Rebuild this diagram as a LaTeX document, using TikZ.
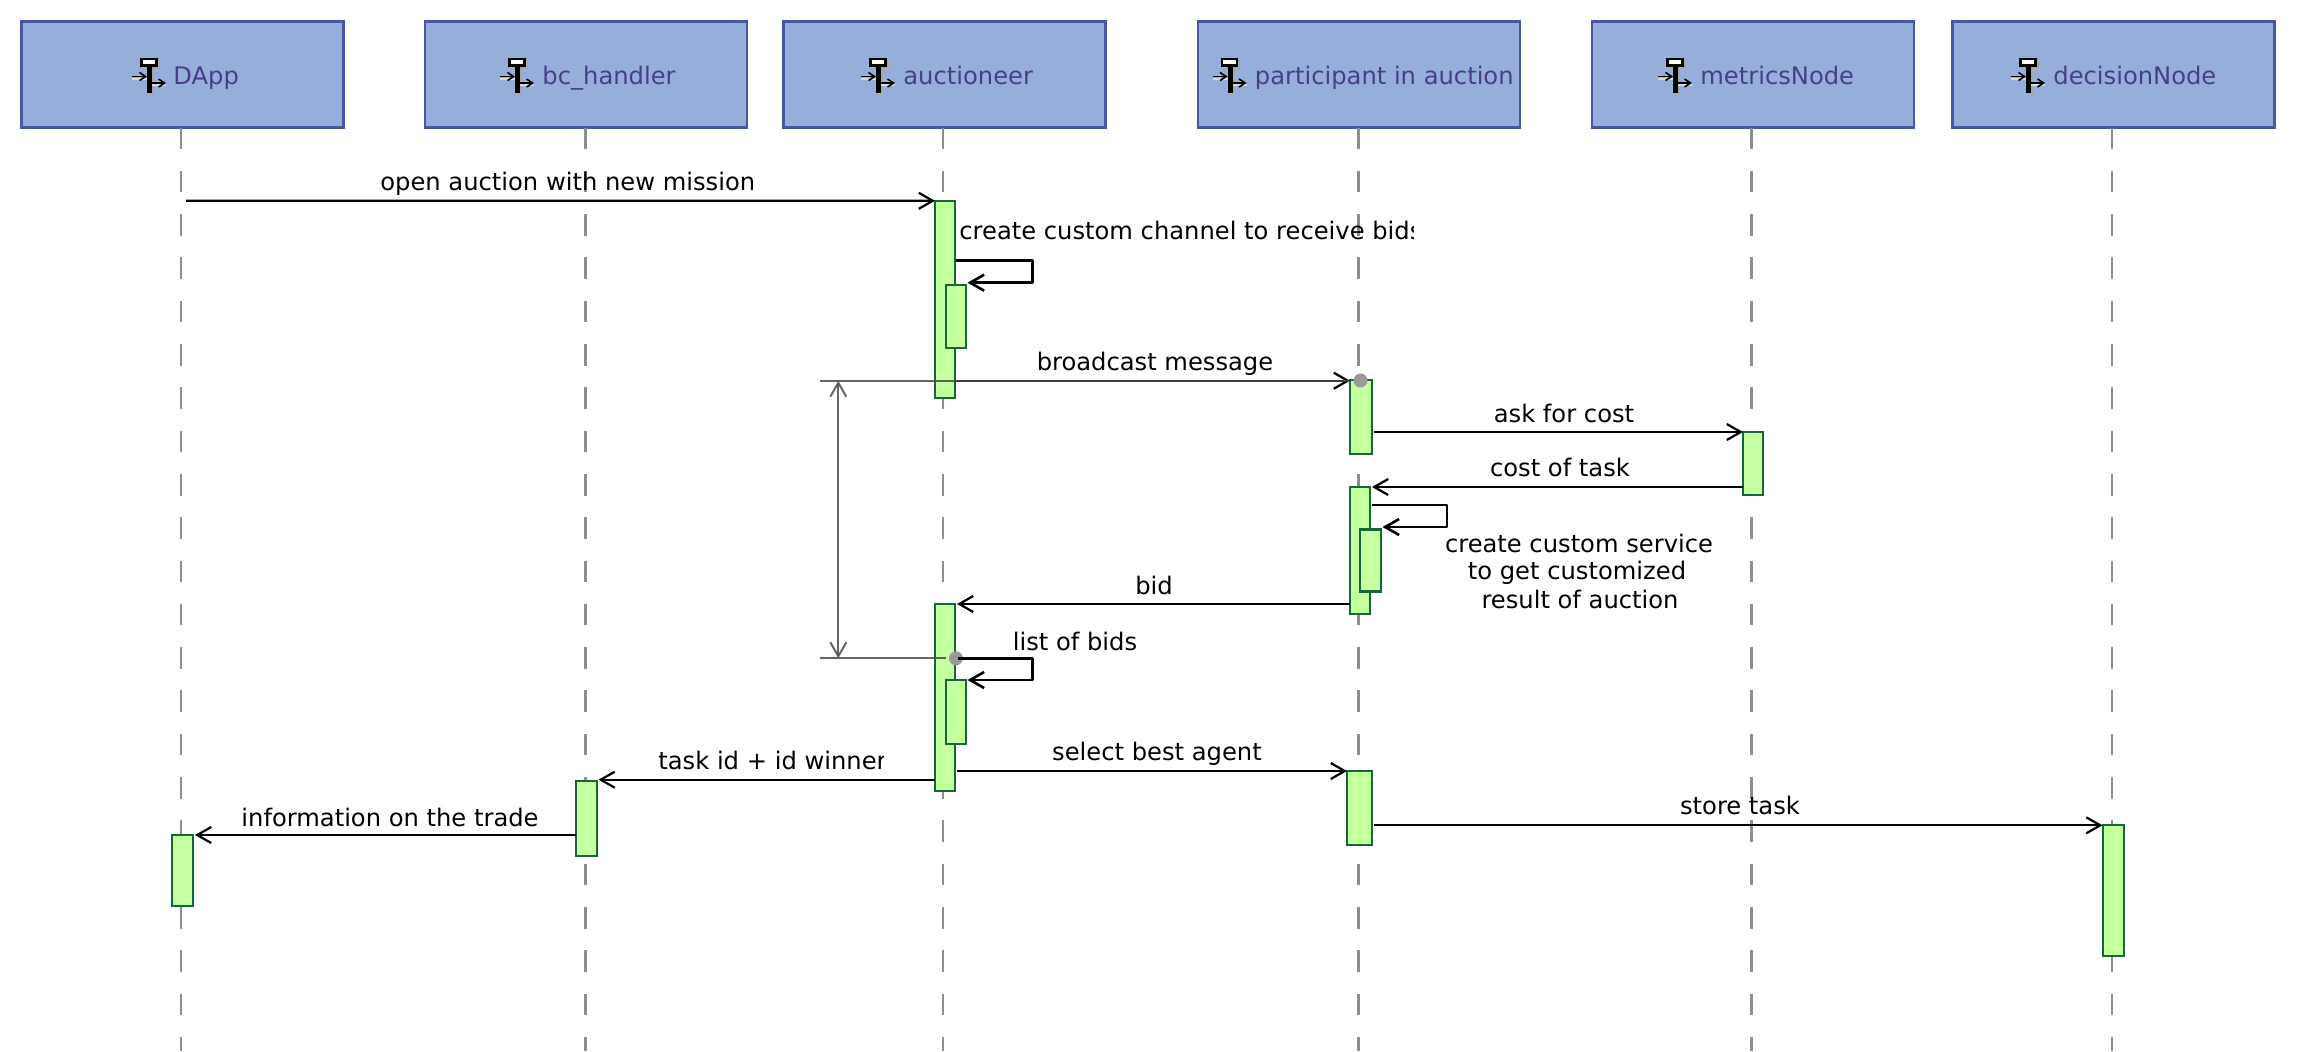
\documentclass[tikz,border=0pt]{standalone}
\usepackage{fontspec}
\setmainfont{DejaVu Sans}
\usetikzlibrary{arrows.meta}
\definecolor{boxfill}{HTML}{95AFDA}
\definecolor{boxline}{HTML}{4A55A8}
\definecolor{boxtext}{HTML}{483D8B}
\definecolor{actfill}{HTML}{C4FFA0}
\definecolor{actline}{HTML}{16663A}
\definecolor{lifegray}{HTML}{8E8E8E}
\definecolor{spangray}{HTML}{4A4A4A}
\definecolor{dotgray}{HTML}{9A9A9A}
\tikzset{
    lifebox/.style={draw=boxline, fill=boxfill, line width=1.25pt, minimum width=161pt, minimum height=53pt, inner sep=0pt, outer sep=0pt},
    lifename/.style={anchor=base west, text=boxtext, inner sep=0pt, yshift=-0.6pt, font=\fontsize{12.1}{14}\selectfont},
    lifeline/.style={draw=lifegray, line width=1.1pt, dash pattern=on 10.8pt off 10.85pt},
    act/.style 2 args={draw=actline, fill=actfill, line width=1.25pt, inner sep=0pt, outer sep=0pt, minimum width=#1*0.5pt, minimum height=#2*0.5pt},
    msg/.style={-{Straight Barb[length=7pt,width=8pt]}, line width=1.1pt, black},
    selfmsg/.style={-{Straight Barb[length=7pt,width=8pt]}, line width=1.3pt, black, line join=round},
    lbl/.style={anchor=base, inner sep=0pt, yshift=-0.7pt, font=\fontsize{12.1}{14}\selectfont},
    lblleft/.style={anchor=base west, inner sep=0pt, yshift=-0.7pt, font=\fontsize{12.1}{14}\selectfont},
    span/.style={draw=spangray, line width=1pt, opacity=0.85},
    spanarrow/.style={{Straight Barb[length=7pt,width=8pt]}-{Straight Barb[length=7pt,width=8pt]}, draw=spangray, line width=1pt, opacity=0.85},
    spandot/.style={circle, fill=dotgray, inner sep=0pt, minimum size=7pt},
    syncicon/.pic={
        \fill[gray!70] (10,-16) rectangle (27.5,-7.5);
        \fill[black] (8,-18) rectangle (25.5,-9.5);
        \fill[white] (10.5,-16) rectangle (23,-12);
        \fill[gray!70] (20,-8) rectangle (22,19);
        \fill[black] (15,-10) rectangle (20,17);
        \draw[white!85!black, line width=1pt] (0,2.5) -- (15,2.5);
        \draw[black, line width=0.8pt, -{Straight Barb[length=3pt,width=4pt]}] (0,0.5) -- (15,0.5);
        \draw[white!85!black, line width=1pt] (20,9) -- (34,9);
        \draw[black, line width=0.8pt, -{Straight Barb[length=3pt,width=4pt]}] (20,7) -- (34,7);
    }
}

\begin{document}
\begin{tikzpicture}[x=0.5pt,y=-0.5pt]

     \useasboundingbox (0,0) rectangle (2298,1051);

     \coordinate (endDApp) at (181,1051);
     \coordinate (endHandler) at (585.5,1051);
     \coordinate (endAuctioneer) at (943.3,1051);
     \coordinate (endParticipant) at (1358.5,1051);
     \coordinate (endMetrics) at (1751.4,1051);
     \coordinate (endDecision) at (2112,1051);

     \node[lifebox] (boxDApp) at (182.5,74.5) {};
     \node[lifebox] (boxHandler) at (586,74.5) {};
     \node[lifebox] (boxAuctioneer) at (944.5,74.5) {};
     \node[lifebox] (boxParticipant) at (1359,74.5) {};
     \node[lifebox] (boxMetrics) at (1753,74.5) {};
     \node[lifebox] (boxDecision) at (2113.5,74.5) {};

     \draw[lifeline] (boxDApp.south -| endDApp) -- (endDApp);
     \draw[lifeline] (boxHandler.south -| endHandler) -- (endHandler);
     \draw[lifeline] (boxAuctioneer.south -| endAuctioneer) -- (endAuctioneer);
     \draw[lifeline] (boxParticipant.south -| endParticipant) -- (endParticipant);
     \draw[lifeline] (boxMetrics.south -| endMetrics) -- (endMetrics);
     \draw[lifeline] (boxDecision.south -| endDecision) -- (endDecision);

     \pic at (132,76) {syncicon};
     \pic at (500,76) {syncicon};
     \pic at (861,76) {syncicon};
     \pic at (1212.5,76) {syncicon};
     \pic at (1658,76) {syncicon};
     \pic at (2011,76) {syncicon};

     \node[lifename] (nameDApp) at (173,83.3) {DApp};
     \node[lifename] (nameHandler) at (542,83.3) {bc\_handler};
     \node[lifename] (nameAuctioneer) at (903,83.3) {auctioneer};
     \node[lifename] (nameParticipant) at (1254.5,83.3) {participant in auction};
     \node[lifename] (nameMetrics) at (1700,83.3) {metricsNode};
     \node[lifename] (nameDecision) at (2053,83.3) {decisionNode};

     \node[act={20}{197}] (actAuctioneerA) at (945,299.3) {};
     \node[act={20}{63}] (actChannel) at (955.8,316.3) {};
     \node[act={22}{74}] (actParticipantA) at (1361,417) {};
     \node[act={20}{63}] (actMetrics) at (1753,463.5) {};
     \node[act={20}{127}] (actParticipantB) at (1360,550.5) {};
     \node[act={21}{62}] (actService) at (1370.5,560.5) {};
     \node[act={20}{187}] (actAuctioneerB) at (945,697.5) {};
     \node[act={20}{64}] (actBids) at (956.2,712) {};
     \node[act={25}{74}] (actParticipantC) at (1359.5,808) {};
     \node[act={21}{131}] (actDecision) at (2113.5,890.5) {};
     \node[act={21}{75}] (actHandler) at (586.5,818.5) {};
     \node[act={21}{71}] (actDApp) at (182.5,870.5) {};

     \coordinate (startOpen) at (186,200.7);
     \coordinate (channelA) at (956,260.7);
     \coordinate (channelB) at (1032.5,260.7);
     \coordinate (channelC) at (1032.5,282.7);
     \coordinate (channelD) at (967.5,282.7);
     \coordinate (spanTopL) at (820,380.7);
     \coordinate (spanTopM) at (838.3,380.7);
     \coordinate (spanBotL) at (820,658.3);
     \coordinate (spanBotM) at (838.3,658.3);
     \coordinate (spanBotR) at (946,658.3);
     \coordinate (serviceA) at (1371.5,505);
     \coordinate (serviceB) at (1447,505);
     \coordinate (serviceC) at (1447,527);
     \coordinate (serviceD) at (1382.5,527);
     \coordinate (bidsA) at (958,658.3);
     \coordinate (bidsB) at (1032.6,658.3);
     \coordinate (bidsC) at (1032.6,680);
     \coordinate (bidsD) at (967.5,680);
     \coordinate (winnerEnd) at (598.5,779.7);
     \coordinate (broadcastEnd) at (1350,380.7);
     \coordinate (storeEnd) at (2102.5,825.3);

     \draw[msg] (startOpen) -- (actAuctioneerA.north west);
     \draw[selfmsg] (channelA) -- (channelB) -- (channelC) -- (channelD);
     \draw[msg] (actAuctioneerA.east |- broadcastEnd) -- (broadcastEnd);
     \draw[msg] ([xshift=1pt]actParticipantA.east |- actMetrics.north) -- (actMetrics.north west);
     \draw[msg] (actMetrics.west |- actParticipantB.north) -- ([xshift=1pt]actParticipantB.north east);
     \draw[selfmsg] (serviceA) -- (serviceB) -- (serviceC) -- (serviceD);
     \draw[msg] (actParticipantB.west |- actAuctioneerB.north) -- ([xshift=1pt]actAuctioneerB.north east);
     \draw[selfmsg] (bidsA) -- (bidsB) -- (bidsC) -- (bidsD);
     \draw[msg] ([xshift=1pt]actAuctioneerB.east |- actParticipantC.north) -- (actParticipantC.north west);
     \draw[msg] (actAuctioneerB.west |- winnerEnd) -- (winnerEnd);
     \draw[msg] ([xshift=1pt]actParticipantC.east |- storeEnd) -- (storeEnd);
     \draw[msg] (actHandler.west |- actDApp.north) -- ([xshift=1pt]actDApp.north east);

     \draw[span] (spanTopL) -- (broadcastEnd);
     \draw[span] (spanBotL) -- (spanBotR);
     \draw[spanarrow] (spanTopM) -- (spanBotM);
     \node[spandot] (dotTop) at (1360.5,380.5) {};
     \node[spandot] (dotBot) at (956,658.3) {};
     \draw[selfmsg, -] (bidsA) -- (bidsB);

     \begin{scope}
     \clip (370,150) rectangle (752,200);
     \node[lblleft] (lblOpen) at (380,189) {open auction with new mission};
     \end{scope}
     \begin{scope}
     \clip (955,210) rectangle (1413,250);
     \node[lblleft] (lblChannel) at (959,238.3) {create custom channel to receive bids};
     \end{scope}
     \begin{scope}
     \clip (650,740) rectangle (883,778);
     \node[lblleft] (lblWinner) at (658,768.3) {task id + id winner};
     \end{scope}

     \node[lbl] (lblBroadcast) at (1155,369) {broadcast message};
     \node[lbl] (lblAsk) at (1564,421) {ask for cost};
     \node[lbl] (lblCost) at (1560,475) {cost of task};
     \node[lbl] (lblServiceA) at (1579,550.7) {create custom service};
     \node[lbl] (lblServiceB) at (1577,578.3) {to get customized};
     \node[lbl] (lblServiceC) at (1580,606.7) {result of auction};
     \node[lbl] (lblBid) at (1154,593.3) {bid};
     \node[lbl] (lblBids) at (1075,649.3) {list of bids};
     \node[lbl] (lblSelect) at (1157,759.3) {select best agent};
     \node[lbl] (lblStore) at (1740,813.3) {store task};
     \node[lbl] (lblTrade) at (390,825) {information on the trade};

\end{tikzpicture}
\end{document}
